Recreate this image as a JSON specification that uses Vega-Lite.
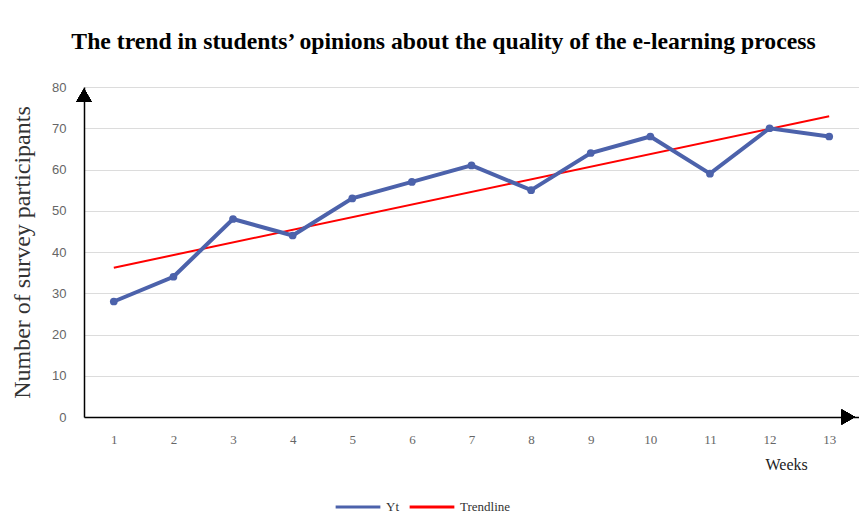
{
  "$schema": "https://vega.github.io/schema/vega-lite/v6.json",
  "width": 775,
  "height": 330,
  "autosize": "none",
  "padding": {"left": 84, "top": 87, "right": 0, "bottom": 98},
  "background": "white",
  "title": {
    "text": "The trend in students’ opinions about the quality of the e-learning process",
    "font": "Liberation Serif",
    "fontSize": 23.7,
    "fontWeight": "bold",
    "color": "#000000",
    "anchor": "middle",
    "frame": "group",
    "dx": -28,
    "offset": 27
  },
  "config": {
    "view": {"stroke": null},
    "axis": {"grid": false, "ticks": false}
  },
  "data": {
    "values": [
      {"week": 1, "value": 28, "series": "Yt"},
      {"week": 2, "value": 34, "series": "Yt"},
      {"week": 3, "value": 48, "series": "Yt"},
      {"week": 4, "value": 44, "series": "Yt"},
      {"week": 5, "value": 53, "series": "Yt"},
      {"week": 6, "value": 57, "series": "Yt"},
      {"week": 7, "value": 61, "series": "Yt"},
      {"week": 8, "value": 55, "series": "Yt"},
      {"week": 9, "value": 64, "series": "Yt"},
      {"week": 10, "value": 68, "series": "Yt"},
      {"week": 11, "value": 59, "series": "Yt"},
      {"week": 12, "value": 70, "series": "Yt"},
      {"week": 13, "value": 68, "series": "Yt"},
      {"week": 1, "value": 36.2, "series": "Trendline"},
      {"week": 13, "value": 72.9, "series": "Trendline"}
    ]
  },
  "encoding": {
    "x": {
      "field": "week",
      "type": "quantitative",
      "scale": {"domain": [0.5, 13.5], "nice": false, "zero": false},
      "axis": {
        "values": [1, 2, 3, 4, 5, 6, 7, 8, 9, 10, 11, 12, 13],
        "title": "Weeks",
        "titleFont": "Liberation Serif",
        "titleFontSize": 16,
        "titleFontWeight": "normal",
        "titleColor": "#222222",
        "titleAnchor": "start",
        "titleAlign": "left",
        "titleBaseline": "alphabetic",
        "titleX": 681,
        "titleY": 52,
        "labelFont": "Liberation Serif",
        "labelFontSize": 13,
        "labelColor": "#666666",
        "labelPadding": 16,
        "domainColor": "#000000",
        "domainWidth": 1.5
      }
    },
    "y": {
      "field": "value",
      "type": "quantitative",
      "scale": {"domain": [0, 80], "nice": false},
      "axis": {
        "values": [0, 10, 20, 30, 40, 50, 60, 70, 80],
        "grid": true,
        "gridColor": "#dcdcdc",
        "gridWidth": 1,
        "title": "Number of survey participants",
        "titleFont": "Liberation Serif",
        "titleFontSize": 24,
        "titleFontWeight": "normal",
        "titleColor": "#333333",
        "titlePadding": 17,
        "labelFont": "Liberation Sans",
        "labelFontSize": 13,
        "labelColor": "#666666",
        "labelPadding": 18,
        "domainColor": "#000000",
        "domainWidth": 1.5
      }
    },
    "color": {
      "field": "series",
      "type": "nominal",
      "scale": {"domain": ["Yt", "Trendline"], "range": ["#4C62AB", "#FF0000"]},
      "legend": {
        "title": null,
        "orient": "none",
        "legendX": 250,
        "legendY": 396,
        "direction": "horizontal",
        "symbolType": "stroke",
        "symbolStrokeWidth": 3,
        "symbolSize": 2000,
        "labelFont": "Liberation Serif",
        "labelFontSize": 13,
        "labelColor": "#333333",
        "columnPadding": 4
      }
    }
  },
  "layer": [
    {
      "transform": [{"filter": "datum.series === 'Trendline'"}],
      "mark": {"type": "line", "strokeWidth": 2}
    },
    {
      "transform": [{"filter": "datum.series === 'Yt'"}],
      "mark": {"type": "line", "strokeWidth": 4}
    },
    {
      "transform": [{"filter": "datum.series === 'Yt'"}],
      "mark": {"type": "point", "filled": true, "size": 60, "opacity": 1}
    },
    {
      "mark": {"type": "point", "shape": "triangle-up", "filled": true, "color": "#000000", "size": 230, "opacity": 1},
      "encoding": {"x": {"datum": 0.5, "type": "quantitative"}, "y": {"datum": 78, "type": "quantitative"}, "color": {"value": "#000000"}}
    },
    {
      "mark": {"type": "point", "shape": "triangle-right", "filled": true, "color": "#000000", "size": 230, "opacity": 1},
      "encoding": {"x": {"datum": 13.32, "type": "quantitative"}, "y": {"datum": 0, "type": "quantitative"}, "color": {"value": "#000000"}}
    }
  ]
}
